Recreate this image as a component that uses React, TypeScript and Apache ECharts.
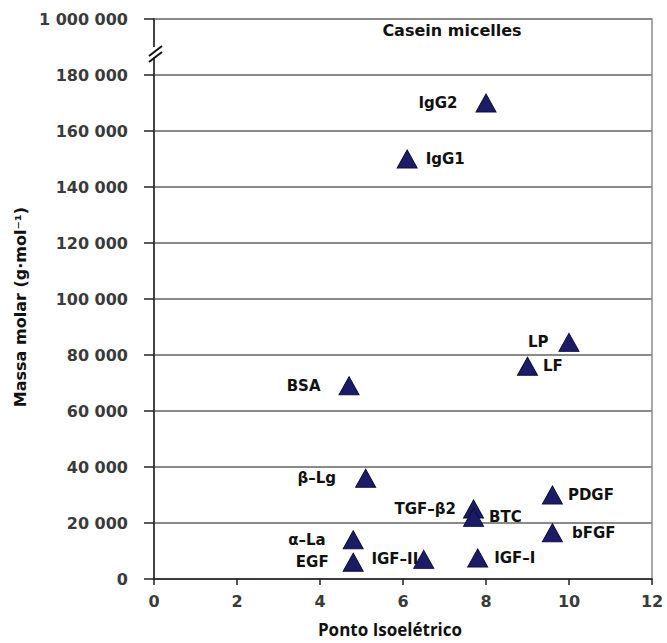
import React, { useEffect, useRef } from "react";
import * as echarts from "echarts";

const names = ["IgG2", "IgG1", "LP", "LF", "BSA", "β–Lg", "TGF–β2", "BTC", "PDGF", "bFGF", "α–La", "EGF", "IGF–II", "IGF–I"];
const isoelectricPoint = [8.0, 6.1, 10.0, 9.0, 4.7, 5.1, 7.7, 7.7, 9.6, 9.6, 4.8, 4.8, 6.5, 7.8];
const molarMass = [170000, 150000, 84500, 76000, 69000, 36000, 25000, 22000, 30000, 16500, 14000, 6000, 7000, 7500];
const labelSide = ["left", "right", "left", "right", "left", "left", "left", "right", "right", "right", "left", "left", "left", "right"];
const labelGap = [18, 8, 10, 5, 18, 19, 7, 5, 5, 9, 17, 14, -5, 6];
const caseinLabel = { name: "Casein micelles", x: 7.18, y: 196000 };
const yTickTop = "1 000 000";

function fmt(v: number) {
  if (v === 200000) return yTickTop;
  return String(v).replace(/\B(?=(\d{3})+(?!\d))/g, " ");
}

export default function App() {
  const ref = useRef<HTMLDivElement>(null);
  useEffect(() => {
    if (!ref.current) return;
    const chart = echarts.init(ref.current, null, { renderer: "svg" });
    const data = names.map((n, i) => ({
      name: n,
      value: [isoelectricPoint[i], molarMass[i]],
      label: { position: labelSide[i], distance: labelGap[i] },
    }));
    chart.setOption({
      animation: false,
      backgroundColor: "#fff",
      grid: { left: 154, right: 15, top: 19, bottom: 62, show: true, borderColor: "#8a8a8a", borderWidth: 1.5 },
      xAxis: {
        type: "value",
        min: 0,
        max: 12,
        interval: 2,
        name: "Ponto Isoelétrico",
        nameLocation: "middle",
        nameGap: 42,
        nameTextStyle: { fontFamily: "Open Sans", fontWeight: "bold", fontSize: 17, color: "#111", padding: [0, 26, 0, 0] },
        axisLine: { lineStyle: { color: "#222", width: 1.5 } },
        axisTick: { show: true, length: 6, lineStyle: { color: "#222", width: 1.5 } },
        axisLabel: { fontFamily: "DejaVu Sans", fontWeight: "bold", fontSize: 16, color: "#3a3a3a", margin: 14 },
        splitLine: { show: false },
      },
      yAxis: {
        type: "value",
        min: 0,
        max: 200000,
        interval: 20000,
        name: "Massa molar (g·mol⁻¹)",
        nameLocation: "middle",
        nameGap: 126,
        nameTextStyle: { fontFamily: "DejaVu Sans", fontWeight: "bold", fontSize: 16, color: "#111", padding: [0, 16, 0, 0] },
        axisLine: { show: true, lineStyle: { color: "#222", width: 1.5 } },
        axisTick: { show: true, length: 10, lineStyle: { color: "#222", width: 1.5 } },
        axisLabel: { fontFamily: "DejaVu Sans", fontWeight: "bold", fontSize: 16, color: "#3a3a3a", margin: 26, formatter: fmt },
        splitLine: { show: true, lineStyle: { color: "#8a8a8a", width: 2 } },
      },
      series: [
        {
          type: "scatter",
          symbol: "triangle",
          symbolSize: [20, 18],
          itemStyle: { color: "#1b1b66", borderColor: "#0e0e40", borderWidth: 1, opacity: 1 },
          label: {
            show: true,
            formatter: "{b}",
            fontFamily: "DejaVu Sans",
            fontWeight: "bold",
            fontSize: 15,
            color: "#111",
          },
          data,
        },
        {
          type: "scatter",
          symbolSize: 0,
          silent: true,
          itemStyle: { opacity: 1 },
          label: {
            show: true,
            position: "inside",
            formatter: "{b}",
            fontFamily: "DejaVu Sans",
            fontWeight: "bold",
            fontSize: 16,
            color: "#111",
          },
          data: [{ name: caseinLabel.name, value: [caseinLabel.x, caseinLabel.y] }],
        },
      ],
      graphic: [
        { type: "rect", shape: { x: 150, y: 47, width: 10, height: 10 }, style: { fill: "#fff" }, z: 100 },
        { type: "line", shape: { x1: 149, y1: 56, x2: 162, y2: 46 }, style: { stroke: "#111", lineWidth: 2 }, z: 101 },
        { type: "line", shape: { x1: 149, y1: 62, x2: 162, y2: 52 }, style: { stroke: "#111", lineWidth: 2 }, z: 101 },
      ],
    });
    return () => chart.dispose();
  }, []);
  return <div ref={ref} style={{ position: "absolute", left: 0, top: 0, width: 667, height: 643 }} />;
}
